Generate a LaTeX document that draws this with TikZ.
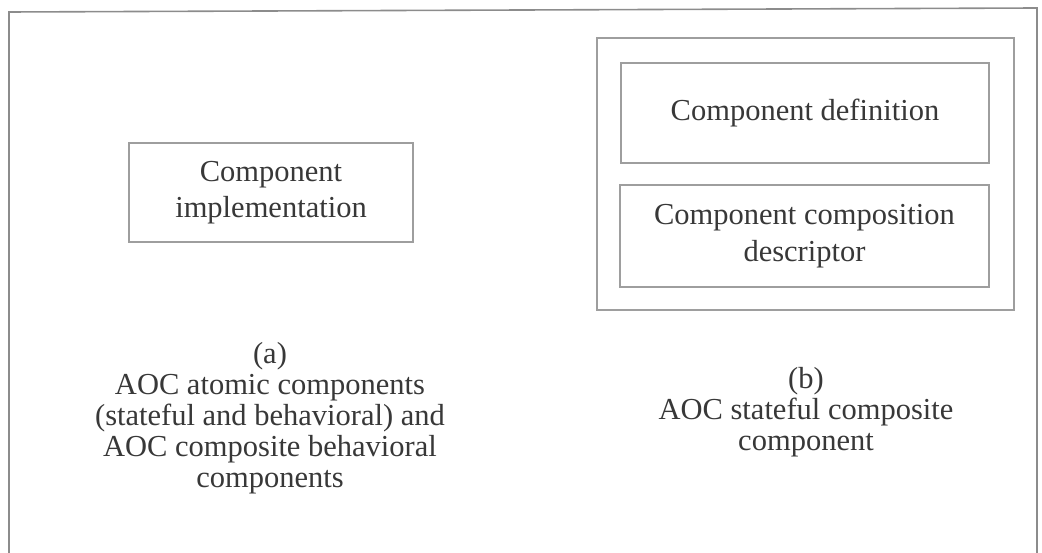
\documentclass[tikz,border=0pt]{standalone}
\usepackage{fontspec}
\setmainfont{Liberation Serif}
\definecolor{boxline}{gray}{0.62}
\definecolor{frameline}{gray}{0.55}
\definecolor{inktext}{gray}{0.22}
\begin{document}
\begin{tikzpicture}[x=1pt,y=-1pt,
  every node/.style={inner sep=0pt, outer sep=0pt},
  compbox/.style={draw=boxline, line width=1.3pt, text=inktext, align=center,
    font=\fontsize{30.5}{36.5}\selectfont},
  caption/.style={text=inktext, align=center, font=\fontsize{30.5}{31}\selectfont}]
  \useasboundingbox (0,0) rectangle (1042,553);
  \clip (0,0) rectangle (1042,553);
  % page frame
  \draw[frameline, line width=1.6pt] (9,562) -- (9,12) -- (1037,8) -- (1037,562);
  % (a) atomic component
  \node[compbox, minimum width=284pt, minimum height=99pt] (impl) at (271,192.5)
    {Component\\implementation};
  \node[caption] (capa) at (270,418)
    {(a)\\AOC atomic components\\(stateful and behavioral) and\\AOC composite behavioral\\components};
  % (b) stateful composite component
  \node[compbox, minimum width=417pt, minimum height=272pt] (outer) at (805.5,174) {};
  \node[compbox, minimum width=368pt, minimum height=100pt] (def) at (805,113)
    {Component definition};
  \node[compbox, minimum width=369pt, minimum height=102pt] (desc) at (804.5,236)
    {Component composition\\descriptor};
  \node[caption] (capb) at (806,412)
    {(b)\\AOC stateful composite\\component};
\end{tikzpicture}
\end{document}
